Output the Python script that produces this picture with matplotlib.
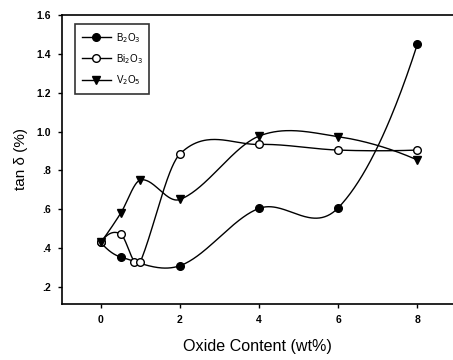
import numpy as np
import matplotlib
matplotlib.use("Agg")
import matplotlib.pyplot as plt

plt.rcParams['font.family'] = ['Liberation Sans', 'DejaVu Sans']

b2o3_x = [0, 0.5, 2, 4, 6, 8]
b2o3_y = [0.43, 0.355, 0.31, 0.605, 0.608, 1.45]
bi2o3_x = [0, 0.5, 0.85, 1.0, 2, 4, 6, 8]
bi2o3_y = [0.43, 0.473, 0.33, 0.33, 0.885, 0.934, 0.905, 0.905]
v2o5_x = [0, 0.5, 1.0, 2, 4, 6, 8]
v2o5_y = [0.43, 0.579, 0.751, 0.651, 0.977, 0.974, 0.854]

yticks = [0.2, 0.4, 0.6, 0.8, 1.0, 1.2, 1.4, 1.6]
ytick_labels = ['.2', '.4', '.6', '.8', '1.0', '1.2', '1.4', '1.6']
xticks = [0, 2, 4, 6, 8]


def smooth_curve(x, y, per_seg=60):
    """Cubic Hermite curve through the points (finite-difference tangents)."""
    x = np.asarray(x, float)
    y = np.asarray(y, float)
    m = len(x)
    t = np.zeros(m)
    for i in range(1, m - 1):
        t[i] = (y[i + 1] - y[i - 1]) / (x[i + 1] - x[i - 1])
    t[0] = 2 * (y[1] - y[0]) / (x[1] - x[0]) - t[1]
    t[-1] = 2 * (y[-1] - y[-2]) / (x[-1] - x[-2]) - t[-2]
    xs_all, ys_all = [], []
    for i in range(m - 1):
        h = x[i + 1] - x[i]
        s = np.linspace(0, 1, per_seg)
        h00 = 2 * s ** 3 - 3 * s ** 2 + 1
        h10 = s ** 3 - 2 * s ** 2 + s
        h01 = -2 * s ** 3 + 3 * s ** 2
        h11 = s ** 3 - s ** 2
        xs_all.append(x[i] + s * h)
        ys_all.append(h00 * y[i] + h10 * h * t[i] + h01 * y[i + 1] + h11 * h * t[i + 1])
    return np.concatenate(xs_all), np.concatenate(ys_all)


fig = plt.figure(figsize=(4.53, 3.6), dpi=100)
ax = fig.add_axes([62 / 453, 1 - 304 / 360, 1 - 62 / 453, (304 - 15) / 360])

series = [
    (b2o3_x, b2o3_y, 'o', 'black', 'B$_2$O$_3$'),
    (bi2o3_x, bi2o3_y, 'o', 'white', 'Bi$_2$O$_3$'),
    (v2o5_x, v2o5_y, 'v', 'black', 'V$_2$O$_5$'),
]
for xs_, ys_, mk, fc, lab in series:
    sx, sy = smooth_curve(xs_, ys_)
    ax.plot(sx, sy, color='black', lw=1.0, zorder=2)
    ax.plot(xs_, ys_, linestyle='none', marker=mk, ms=5.5, mfc=fc,
            mec='black', mew=1.0, zorder=3)
    ax.plot([], [], color='black', lw=1.0, marker=mk, ms=5.5, mfc=fc,
            mec='black', mew=1.0, label=lab)

ax.set_xlim(-0.98, 8.9)
ax.set_ylim(0.113, 1.6)
ax.set_xticks(xticks)
ax.set_xticklabels([str(t) for t in xticks])
ax.set_yticks(yticks)
ax.set_yticklabels(ytick_labels)
ax.tick_params(direction='out', length=3, width=1, labelsize=7.5, pad=5)
for lbl in ax.get_xticklabels() + ax.get_yticklabels():
    lbl.set_fontweight('bold')
ax.spines['right'].set_visible(False)
for s in ['left', 'bottom', 'top']:
    ax.spines[s].set_linewidth(1.2)

ax.set_xlabel('Oxide Content (wt%)', fontsize=11.6, labelpad=10)
ax.set_ylabel('tan δ (%)', fontsize=11, labelpad=6)

leg = ax.legend(loc='upper left', bbox_to_anchor=(0.033, 0.969), fontsize=7,
                frameon=True, fancybox=False, edgecolor='black',
                handlelength=3.0, borderpad=0.7, labelspacing=0.75,
                handletextpad=0.5, borderaxespad=0)
leg.get_frame().set_linewidth(1.2)

fig.savefig('out.png', dpi=100)
